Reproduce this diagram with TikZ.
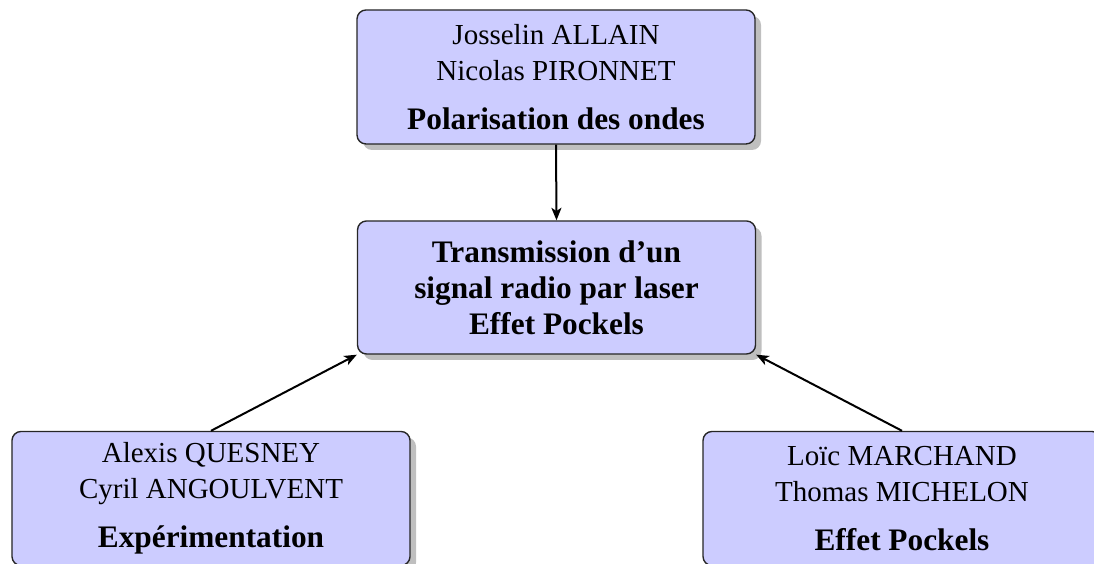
\documentclass[tikz,border=0pt]{standalone}
\usepackage{fontspec}
\setmainfont[BoldFeatures={Scale=1.08}]{Liberation Serif}
\usetikzlibrary{shadows,arrows.meta}
\begin{document}
\begin{tikzpicture}[x=0.4pt,y=-0.4pt,
  box/.style={draw=black!85,line width=0.55pt,fill=blue!20,rounded corners=3.6pt,
    minimum width=159.2pt,align=center,inner sep=0pt,
    font=\fontsize{11.6}{14.4}\selectfont,
    drop shadow={shadow xshift=2.4pt,shadow yshift=-2.4pt,fill=black!25,opacity=1}},
  link/.style={line width=0.8pt,-{Stealth[length=5pt,width=4pt,inset=1.3pt]}}]
\useasboundingbox (0,0) rectangle (1094,564);
\node[box,minimum height=53.6pt] (top) at (556,77) {Josselin ALLAIN\\Nicolas PIRONNET\\[5.2pt]\textbf{Polarisation des ondes}};
\node[box,minimum height=53.2pt] (mid) at (556.5,287.5) {\textbf{Transmission d’un}\\\textbf{signal radio par laser}\\\textbf{Effet Pockels}};
\node[box,minimum height=53.6pt] (bl) at (211,498.5) {Alexis QUESNEY\\Cyril ANGOULVENT\\[5.2pt]\textbf{Expérimentation}};
\node[box,minimum height=53.6pt] (br) at (902,498.5) {Loïc MARCHAND\\Thomas MICHELON\\[5.2pt]\textbf{Effet Pockels}};
\draw[link] (top.south) -- (mid.north);
\draw[link] (bl.north) -- (mid.south west);
\draw[link] (br.north) -- (mid.south east);
\end{tikzpicture}
\end{document}
